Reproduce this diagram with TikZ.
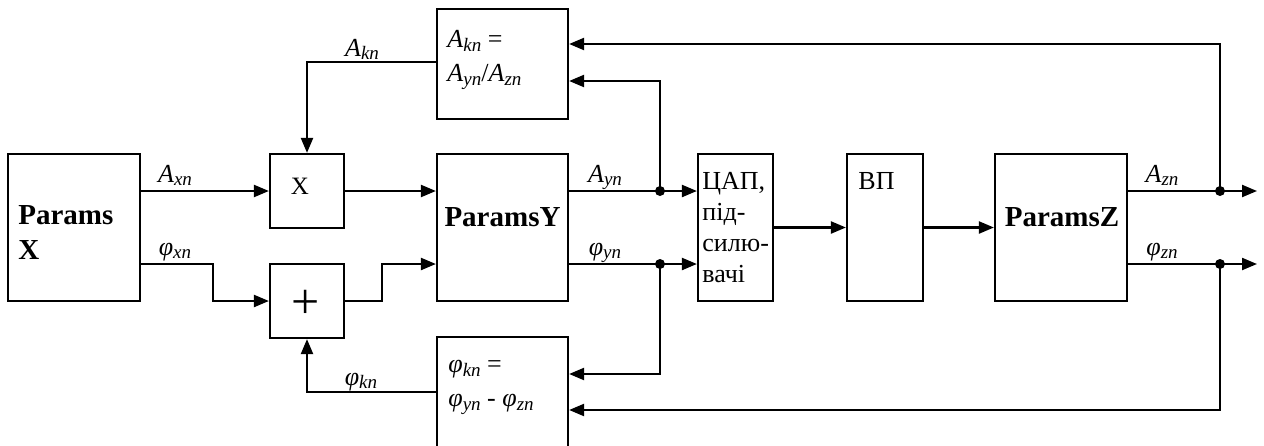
\documentclass[tikz,border=0pt]{standalone}
\usepackage{fontspec}
\setmainfont{Liberation Serif}
\usetikzlibrary{positioning,arrows.meta}
% italic symbol with a Word-like subscript (scaled from the current size)
\newcommand{\vsub}[2]{\textit{#1}\raisebox{-0.3ex}{\fontsize{9.5}{9.5}\selectfont\itshape #2}}
\tikzset{
  % --- blocks ----------------------------------------------------------------
  blk/.style={rectangle,draw,line width=1.1pt,inner sep=0pt},
  bigblk/.style={blk,minimum width=65.5pt,minimum height=73.5pt},
  opblk/.style={blk,minimum width=37pt,minimum height=37pt},
  narrowblk/.style={blk,minimum width=37.5pt,minimum height=73.5pt},
  % --- texts -----------------------------------------------------------------
  bold/.style={font=\fontsize{14.5}{17.5}\selectfont\bfseries,inner sep=0pt,
               align=left},
  formula/.style={font=\fontsize{13}{17}\selectfont,inner sep=0pt,align=left,
                  anchor=north west},
  cyr/.style={font=\fontsize{13}{15.5}\selectfont,inner sep=0pt,align=left,
              anchor=north west},
  lbl/.style={font=\fontsize{13}{14}\selectfont,inner sep=0pt,anchor=base},
  % --- connectors ------------------------------------------------------------
  sig/.style={-{Triangle[length=7.5pt,width=6pt]},line width=1.1pt},
  dot/.style={circle,fill,inner sep=0pt,minimum size=5pt},
}
\begin{document}
\begin{tikzpicture}[x=0.5pt, y=-0.5pt]
  \useasboundingbox (0,0) rectangle (1264,445);
  % --- rows of the signals -------------------------------------------------
  \coordinate (rowA) at (0,191);
  \coordinate (rowP) at (0,264);
  \coordinate (rowK) at (0,62);
  \coordinate (rowF) at (0,392);
  \coordinate (rowT1) at (0,44);
  \coordinate (rowT2) at (0,81);
  \coordinate (rowB1) at (0,374);
  \coordinate (rowB2) at (0,410);
  \coordinate (bendX) at (213,0);
  \coordinate (bendY) at (382,0);
  \coordinate (outA) at (1257,191);
  \coordinate (outP) at (1257,264);

  % --- blocks ----------------------------------------------------------------
  \node[blk,minimum width=66pt,minimum height=73.5pt] (px) at (74,227.5) {};
  \node[opblk] (mult) at (307,191) {};
  \node[opblk] (plus) at (307,301) {};
  \node[bigblk] (py) at (502.5,227.5) {};
  \node[blk,minimum width=65.5pt,minimum height=55pt] (akn) at (502.5,64) {};
  \node[blk,minimum width=65.5pt,minimum height=57pt] (pkn) at (502.5,394) {};
  \node[narrowblk] (dac) at (735.5,227.5) {};
  \node[narrowblk,minimum width=38pt] (vp) at (885,227.5) {};
  \node[bigblk,minimum width=66pt] (pz) at (1061,227.5) {};

  % --- block texts -----------------------------------------------------------
  \node[bold,anchor=north west] (pxtxt) at (18,205) {Params\\X};
  \node[bold] (pytxt) at (502.5,217) {ParamsY};
  \node[bold] (pztxt) at (1062,217) {ParamsZ};
  \node[font=\fontsize{12.5}{14}\selectfont,inner sep=0pt] (multtxt)
    at (300,186) {X};
  \node[font=\fontsize{25}{25}\selectfont,inner sep=0pt] (plustxt)
    at (306,304) {+};
  \node[formula] (akntxt) at (447,30)
    {\vsub{A}{kn} =\\\vsub{A}{yn}/\vsub{A}{zn}};
  \node[formula] (pkntxt) at (448,360)
    {\vsub{φ}{kn} =\\\vsub{φ}{yn} - \vsub{φ}{zn}};
  \node[cyr] (dactxt) at (702,172) {ЦАП,\\під-\\силю-\\вачі};
  \node[cyr] (vptxt) at (858,172) {ВП};

  % --- junctions -------------------------------------------------------------
  \node[dot] (jya) at (660,191) {};
  \node[dot] (jyp) at (660,264) {};
  \node[dot] (jza) at (1220,191) {};
  \node[dot] (jzp) at (1220,264) {};

  % --- forward path ----------------------------------------------------------
  \draw[sig] (px.east |- rowA) -- (mult.west);
  \draw[sig] (px.east |- rowP) -| (bendX |- plus) -- (plus.west);
  \draw[sig] (mult.east) -- (py.west |- rowA);
  \draw[sig] (plus.east) -| (bendY |- rowP) -- (py.west |- rowP);
  \draw[sig] (py.east |- rowA) -- (dac.west |- rowA);
  \draw[sig] (py.east |- rowP) -- (dac.west |- rowP);
  \draw[sig] (dac.east) -- (vp.west);
  \draw[sig] (vp.east) -- (pz.west);
  \draw[sig] (pz.east |- rowA) -- (outA);
  \draw[sig] (pz.east |- rowP) -- (outP);

  % --- feedback to the correction blocks -------------------------------------
  \draw[sig] (jza.center) |- (akn.east |- rowT1);
  \draw[sig] (jya.center) |- (akn.east |- rowT2);
  \draw[sig] (jyp.center) |- (pkn.east |- rowB1);
  \draw[sig] (jzp.center) |- (pkn.east |- rowB2);
  \draw[sig] (akn.west |- rowK) -| (mult.north);
  \draw[sig] (pkn.west |- rowF) -| (plus.south);

  % --- signal labels ---------------------------------------------------------
  \node[lbl] (laxn) at (175,182) {\vsub{A}{xn}};
  \node[lbl] (lpxn) at (175,255) {\vsub{φ}{xn}};
  \node[lbl] (layn) at (605,182) {\vsub{A}{yn}};
  \node[lbl] (lpyn) at (605,255) {\vsub{φ}{yn}};
  \node[lbl] (lazn) at (1162,182) {\vsub{A}{zn}};
  \node[lbl] (lpzn) at (1162,255) {\vsub{φ}{zn}};
  \node[lbl] (lakn) at (362,56) {\vsub{A}{kn}};
  \node[lbl] (lpkn) at (361,385) {\vsub{φ}{kn}};
\end{tikzpicture}
\end{document}
